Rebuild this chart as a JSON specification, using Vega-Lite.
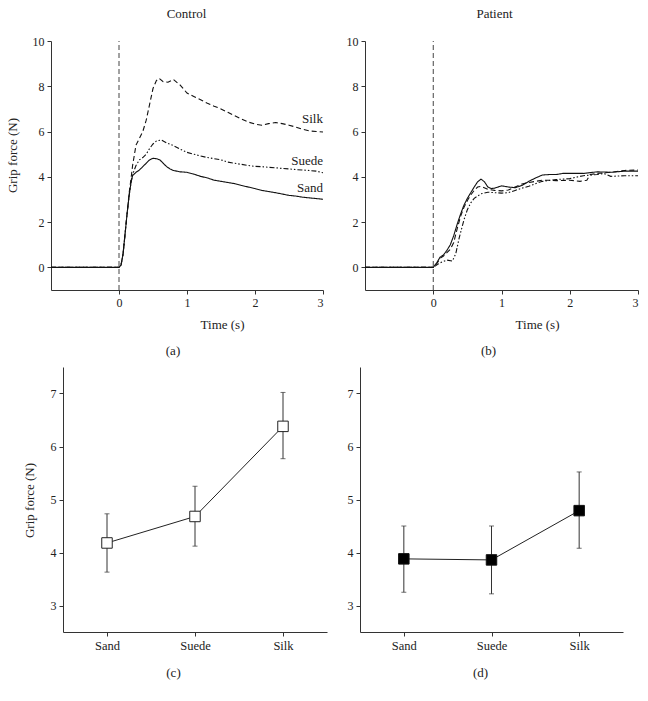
{
  "$schema": "https://vega.github.io/schema/vega-lite/v6.json",
  "padding": {"left": 6, "top": 7, "right": 5, "bottom": 5},
  "background": "white",
  "config": {
    "view": {"stroke": null},
    "font": "Liberation Serif",
    "axis": {
      "grid": false,
      "labelFont": "Liberation Serif",
      "titleFont": "Liberation Serif",
      "labelFontSize": 12,
      "titleFontSize": 13,
      "titleFontWeight": "normal",
      "domainColor": "#333333",
      "tickColor": "#333333",
      "labelColor": "#222222",
      "titleColor": "#222222",
      "tickSize": 4,
      "labelPadding": 3
    },
    "title": {"font": "Liberation Serif", "fontSize": 13, "fontWeight": "normal", "color": "#222222"}
  },
  "datasets": {
    "control": [
      {"t": -1, "force": 0, "texture": "Sand"}, {"t": 0, "force": 0, "texture": "Sand"}, {"t": 0.03, "force": 0.1, "texture": "Sand"}, {"t": 0.06, "force": 0.6, "texture": "Sand"}, {"t": 0.09, "force": 1.5, "texture": "Sand"}, {"t": 0.12, "force": 2.4, "texture": "Sand"}, {"t": 0.15, "force": 3.2, "texture": "Sand"}, {"t": 0.18, "force": 3.8, "texture": "Sand"}, {"t": 0.2, "force": 4.05, "texture": "Sand"}, {"t": 0.25, "force": 4.2, "texture": "Sand"}, {"t": 0.3, "force": 4.3, "texture": "Sand"}, {"t": 0.35, "force": 4.45, "texture": "Sand"}, {"t": 0.4, "force": 4.6, "texture": "Sand"}, {"t": 0.45, "force": 4.75, "texture": "Sand"}, {"t": 0.5, "force": 4.82, "texture": "Sand"}, {"t": 0.55, "force": 4.8, "texture": "Sand"}, {"t": 0.6, "force": 4.75, "texture": "Sand"}, {"t": 0.65, "force": 4.6, "texture": "Sand"}, {"t": 0.7, "force": 4.45, "texture": "Sand"}, {"t": 0.75, "force": 4.35, "texture": "Sand"}, {"t": 0.8, "force": 4.28, "texture": "Sand"}, {"t": 0.9, "force": 4.22, "texture": "Sand"}, {"t": 1.0, "force": 4.2, "texture": "Sand"}, {"t": 1.1, "force": 4.12, "texture": "Sand"}, {"t": 1.2, "force": 4.02, "texture": "Sand"}, {"t": 1.3, "force": 3.95, "texture": "Sand"}, {"t": 1.4, "force": 3.85, "texture": "Sand"}, {"t": 1.5, "force": 3.8, "texture": "Sand"}, {"t": 1.6, "force": 3.75, "texture": "Sand"}, {"t": 1.7, "force": 3.7, "texture": "Sand"}, {"t": 1.8, "force": 3.62, "texture": "Sand"}, {"t": 1.9, "force": 3.55, "texture": "Sand"}, {"t": 2.0, "force": 3.48, "texture": "Sand"}, {"t": 2.1, "force": 3.4, "texture": "Sand"}, {"t": 2.2, "force": 3.35, "texture": "Sand"}, {"t": 2.3, "force": 3.3, "texture": "Sand"}, {"t": 2.4, "force": 3.24, "texture": "Sand"}, {"t": 2.5, "force": 3.18, "texture": "Sand"}, {"t": 2.6, "force": 3.15, "texture": "Sand"}, {"t": 2.7, "force": 3.1, "texture": "Sand"}, {"t": 2.8, "force": 3.07, "texture": "Sand"}, {"t": 2.9, "force": 3.04, "texture": "Sand"}, {"t": 3.0, "force": 3.01, "texture": "Sand"},
      {"t": -1, "force": 0, "texture": "Suede"}, {"t": 0, "force": 0, "texture": "Suede"}, {"t": 0.03, "force": 0.1, "texture": "Suede"}, {"t": 0.06, "force": 0.6, "texture": "Suede"}, {"t": 0.09, "force": 1.5, "texture": "Suede"}, {"t": 0.12, "force": 2.4, "texture": "Suede"}, {"t": 0.15, "force": 3.2, "texture": "Suede"}, {"t": 0.18, "force": 3.8, "texture": "Suede"}, {"t": 0.2, "force": 4.1, "texture": "Suede"}, {"t": 0.25, "force": 4.5, "texture": "Suede"}, {"t": 0.3, "force": 4.75, "texture": "Suede"}, {"t": 0.35, "force": 4.85, "texture": "Suede"}, {"t": 0.4, "force": 5.0, "texture": "Suede"}, {"t": 0.45, "force": 5.25, "texture": "Suede"}, {"t": 0.5, "force": 5.45, "texture": "Suede"}, {"t": 0.55, "force": 5.58, "texture": "Suede"}, {"t": 0.62, "force": 5.63, "texture": "Suede"}, {"t": 0.7, "force": 5.5, "texture": "Suede"}, {"t": 0.8, "force": 5.38, "texture": "Suede"}, {"t": 0.9, "force": 5.22, "texture": "Suede"}, {"t": 1.0, "force": 5.08, "texture": "Suede"}, {"t": 1.1, "force": 5.0, "texture": "Suede"}, {"t": 1.2, "force": 4.92, "texture": "Suede"}, {"t": 1.3, "force": 4.85, "texture": "Suede"}, {"t": 1.4, "force": 4.8, "texture": "Suede"}, {"t": 1.5, "force": 4.75, "texture": "Suede"}, {"t": 1.6, "force": 4.65, "texture": "Suede"}, {"t": 1.7, "force": 4.6, "texture": "Suede"}, {"t": 1.8, "force": 4.55, "texture": "Suede"}, {"t": 1.9, "force": 4.5, "texture": "Suede"}, {"t": 2.0, "force": 4.46, "texture": "Suede"}, {"t": 2.1, "force": 4.45, "texture": "Suede"}, {"t": 2.2, "force": 4.42, "texture": "Suede"}, {"t": 2.3, "force": 4.4, "texture": "Suede"}, {"t": 2.4, "force": 4.37, "texture": "Suede"}, {"t": 2.5, "force": 4.35, "texture": "Suede"}, {"t": 2.6, "force": 4.32, "texture": "Suede"}, {"t": 2.7, "force": 4.3, "texture": "Suede"}, {"t": 2.8, "force": 4.28, "texture": "Suede"}, {"t": 2.9, "force": 4.25, "texture": "Suede"}, {"t": 3.0, "force": 4.18, "texture": "Suede"},
      {"t": -1, "force": 0, "texture": "Silk"}, {"t": 0, "force": 0, "texture": "Silk"}, {"t": 0.03, "force": 0.1, "texture": "Silk"}, {"t": 0.06, "force": 0.6, "texture": "Silk"}, {"t": 0.09, "force": 1.5, "texture": "Silk"}, {"t": 0.12, "force": 2.4, "texture": "Silk"}, {"t": 0.15, "force": 3.3, "texture": "Silk"}, {"t": 0.18, "force": 4.0, "texture": "Silk"}, {"t": 0.2, "force": 4.5, "texture": "Silk"}, {"t": 0.25, "force": 5.4, "texture": "Silk"}, {"t": 0.3, "force": 5.7, "texture": "Silk"}, {"t": 0.35, "force": 6.0, "texture": "Silk"}, {"t": 0.4, "force": 6.5, "texture": "Silk"}, {"t": 0.45, "force": 7.2, "texture": "Silk"}, {"t": 0.5, "force": 7.9, "texture": "Silk"}, {"t": 0.55, "force": 8.25, "texture": "Silk"}, {"t": 0.59, "force": 8.35, "texture": "Silk"}, {"t": 0.65, "force": 8.2, "texture": "Silk"}, {"t": 0.72, "force": 8.18, "texture": "Silk"}, {"t": 0.8, "force": 8.3, "texture": "Silk"}, {"t": 0.9, "force": 8.05, "texture": "Silk"}, {"t": 1.0, "force": 7.7, "texture": "Silk"}, {"t": 1.1, "force": 7.55, "texture": "Silk"}, {"t": 1.2, "force": 7.4, "texture": "Silk"}, {"t": 1.3, "force": 7.25, "texture": "Silk"}, {"t": 1.4, "force": 7.12, "texture": "Silk"}, {"t": 1.5, "force": 7.0, "texture": "Silk"}, {"t": 1.6, "force": 6.85, "texture": "Silk"}, {"t": 1.7, "force": 6.7, "texture": "Silk"}, {"t": 1.8, "force": 6.55, "texture": "Silk"}, {"t": 1.9, "force": 6.42, "texture": "Silk"}, {"t": 2.0, "force": 6.33, "texture": "Silk"}, {"t": 2.1, "force": 6.28, "texture": "Silk"}, {"t": 2.2, "force": 6.35, "texture": "Silk"}, {"t": 2.3, "force": 6.4, "texture": "Silk"}, {"t": 2.4, "force": 6.35, "texture": "Silk"}, {"t": 2.5, "force": 6.28, "texture": "Silk"}, {"t": 2.6, "force": 6.2, "texture": "Silk"}, {"t": 2.7, "force": 6.1, "texture": "Silk"}, {"t": 2.8, "force": 6.03, "texture": "Silk"}, {"t": 2.9, "force": 6.0, "texture": "Silk"}, {"t": 3.0, "force": 5.98, "texture": "Silk"}
    ],
    "patient": [
      {"t": -1, "force": 0, "texture": "Sand"}, {"t": 0, "force": 0, "texture": "Sand"}, {"t": 0.05, "force": 0.2, "texture": "Sand"}, {"t": 0.1, "force": 0.45, "texture": "Sand"}, {"t": 0.15, "force": 0.55, "texture": "Sand"}, {"t": 0.2, "force": 0.75, "texture": "Sand"}, {"t": 0.25, "force": 1.0, "texture": "Sand"}, {"t": 0.3, "force": 1.4, "texture": "Sand"}, {"t": 0.35, "force": 1.9, "texture": "Sand"}, {"t": 0.4, "force": 2.35, "texture": "Sand"}, {"t": 0.45, "force": 2.75, "texture": "Sand"}, {"t": 0.5, "force": 3.05, "texture": "Sand"}, {"t": 0.55, "force": 3.3, "texture": "Sand"}, {"t": 0.6, "force": 3.55, "texture": "Sand"}, {"t": 0.65, "force": 3.78, "texture": "Sand"}, {"t": 0.7, "force": 3.9, "texture": "Sand"}, {"t": 0.75, "force": 3.78, "texture": "Sand"}, {"t": 0.8, "force": 3.55, "texture": "Sand"}, {"t": 0.85, "force": 3.48, "texture": "Sand"}, {"t": 0.9, "force": 3.5, "texture": "Sand"}, {"t": 1.0, "force": 3.6, "texture": "Sand"}, {"t": 1.1, "force": 3.55, "texture": "Sand"}, {"t": 1.2, "force": 3.52, "texture": "Sand"}, {"t": 1.3, "force": 3.62, "texture": "Sand"}, {"t": 1.4, "force": 3.8, "texture": "Sand"}, {"t": 1.5, "force": 3.95, "texture": "Sand"}, {"t": 1.6, "force": 4.08, "texture": "Sand"}, {"t": 1.7, "force": 4.1, "texture": "Sand"}, {"t": 1.8, "force": 4.1, "texture": "Sand"}, {"t": 1.9, "force": 4.15, "texture": "Sand"}, {"t": 2.0, "force": 4.15, "texture": "Sand"}, {"t": 2.2, "force": 4.15, "texture": "Sand"}, {"t": 2.4, "force": 4.22, "texture": "Sand"}, {"t": 2.6, "force": 4.2, "texture": "Sand"}, {"t": 2.8, "force": 4.25, "texture": "Sand"}, {"t": 3.0, "force": 4.25, "texture": "Sand"},
      {"t": -1, "force": 0, "texture": "Suede"}, {"t": 0, "force": 0, "texture": "Suede"}, {"t": 0.1, "force": 0.2, "texture": "Suede"}, {"t": 0.2, "force": 0.32, "texture": "Suede"}, {"t": 0.28, "force": 0.28, "texture": "Suede"}, {"t": 0.33, "force": 0.6, "texture": "Suede"}, {"t": 0.38, "force": 1.3, "texture": "Suede"}, {"t": 0.45, "force": 2.1, "texture": "Suede"}, {"t": 0.5, "force": 2.55, "texture": "Suede"}, {"t": 0.55, "force": 2.85, "texture": "Suede"}, {"t": 0.6, "force": 3.05, "texture": "Suede"}, {"t": 0.7, "force": 3.25, "texture": "Suede"}, {"t": 0.8, "force": 3.32, "texture": "Suede"}, {"t": 0.9, "force": 3.3, "texture": "Suede"}, {"t": 1.0, "force": 3.28, "texture": "Suede"}, {"t": 1.1, "force": 3.3, "texture": "Suede"}, {"t": 1.2, "force": 3.4, "texture": "Suede"}, {"t": 1.3, "force": 3.5, "texture": "Suede"}, {"t": 1.4, "force": 3.58, "texture": "Suede"}, {"t": 1.5, "force": 3.7, "texture": "Suede"}, {"t": 1.6, "force": 3.8, "texture": "Suede"}, {"t": 1.8, "force": 3.88, "texture": "Suede"}, {"t": 2.0, "force": 3.92, "texture": "Suede"}, {"t": 2.2, "force": 4.05, "texture": "Suede"}, {"t": 2.4, "force": 4.1, "texture": "Suede"}, {"t": 2.5, "force": 4.15, "texture": "Suede"}, {"t": 2.6, "force": 4.02, "texture": "Suede"}, {"t": 2.8, "force": 4.05, "texture": "Suede"}, {"t": 3.0, "force": 4.05, "texture": "Suede"},
      {"t": -1, "force": 0, "texture": "Silk"}, {"t": 0, "force": 0, "texture": "Silk"}, {"t": 0.05, "force": 0.15, "texture": "Silk"}, {"t": 0.1, "force": 0.4, "texture": "Silk"}, {"t": 0.15, "force": 0.5, "texture": "Silk"}, {"t": 0.2, "force": 0.65, "texture": "Silk"}, {"t": 0.25, "force": 0.8, "texture": "Silk"}, {"t": 0.3, "force": 1.1, "texture": "Silk"}, {"t": 0.35, "force": 1.7, "texture": "Silk"}, {"t": 0.4, "force": 2.25, "texture": "Silk"}, {"t": 0.45, "force": 2.65, "texture": "Silk"}, {"t": 0.5, "force": 2.95, "texture": "Silk"}, {"t": 0.55, "force": 3.2, "texture": "Silk"}, {"t": 0.6, "force": 3.4, "texture": "Silk"}, {"t": 0.65, "force": 3.55, "texture": "Silk"}, {"t": 0.7, "force": 3.58, "texture": "Silk"}, {"t": 0.8, "force": 3.45, "texture": "Silk"}, {"t": 0.9, "force": 3.4, "texture": "Silk"}, {"t": 1.0, "force": 3.38, "texture": "Silk"}, {"t": 1.1, "force": 3.42, "texture": "Silk"}, {"t": 1.2, "force": 3.55, "texture": "Silk"}, {"t": 1.3, "force": 3.68, "texture": "Silk"}, {"t": 1.4, "force": 3.75, "texture": "Silk"}, {"t": 1.6, "force": 3.85, "texture": "Silk"}, {"t": 1.7, "force": 3.85, "texture": "Silk"}, {"t": 1.8, "force": 3.83, "texture": "Silk"}, {"t": 2.0, "force": 3.85, "texture": "Silk"}, {"t": 2.15, "force": 3.8, "texture": "Silk"}, {"t": 2.25, "force": 3.85, "texture": "Silk"}, {"t": 2.3, "force": 4.1, "texture": "Silk"}, {"t": 2.4, "force": 4.15, "texture": "Silk"}, {"t": 2.6, "force": 4.2, "texture": "Silk"}, {"t": 2.8, "force": 4.28, "texture": "Silk"}, {"t": 3.0, "force": 4.3, "texture": "Silk"}
    ],
    "labels": [
      {"texture": "Silk", "t": 3.0, "force": 6.55},
      {"texture": "Suede", "t": 3.0, "force": 4.7},
      {"texture": "Sand", "t": 3.0, "force": 3.5}
    ],
    "onset": [
      {"t": 0, "lo": -1, "hi": 10}
    ],
    "control_means": [
      {"texture": "Sand", "mean": 4.18, "lo": 3.63, "hi": 4.73},
      {"texture": "Suede", "mean": 4.68, "lo": 4.12, "hi": 5.25},
      {"texture": "Silk", "mean": 6.38, "lo": 5.77, "hi": 7.02}
    ],
    "patient_means": [
      {"texture": "Sand", "mean": 3.88, "lo": 3.25, "hi": 4.5},
      {"texture": "Suede", "mean": 3.86, "lo": 3.22, "hi": 4.5},
      {"texture": "Silk", "mean": 4.79, "lo": 4.08, "hi": 5.52}
    ]
  },
  "vconcat": [
    {
      "hconcat": [
        {
          "width": 272, "height": 249,
          "title": {"text": "(a)", "orient": "bottom", "frame": "group", "anchor": "middle", "dx": -14, "offset": 14},
          "layer": [
            {
              "data": {"name": "control"},
              "mark": {"type": "line", "color": "#111111", "strokeWidth": 1.1},
              "encoding": {
                "x": {"field": "t", "type": "quantitative", "scale": {"domain": [-1, 3], "nice": false, "zero": false},
                      "axis": {"values": [0, 1, 2, 3], "title": "Time (s)", "titleX": 171, "titleY": 28}},
                "y": {"field": "force", "type": "quantitative", "scale": {"domain": [-1, 10], "nice": false},
                      "axis": {"values": [0, 2, 4, 6, 8, 10], "title": "Grip force (N)", "titleX": -32, "titleY": 114}},
                "strokeDash": {"field": "texture", "type": "nominal", "legend": null,
                               "scale": {"domain": ["Sand", "Suede", "Silk"], "range": [[1, 0], [5, 2, 1.5, 2, 1.5, 2], [5, 3]]}},
                "detail": {"field": "texture"}
              }
            },
            {
              "data": {"name": "onset"},
              "mark": {"type": "rule", "color": "#444444", "strokeDash": [5, 3], "strokeWidth": 1},
              "encoding": {
                "x": {"field": "t", "type": "quantitative",
                      "axis": {"orient": "top", "title": "Control", "domain": false, "ticks": false, "labels": false, "titleX": 135, "titleY": -21}},
                "y": {"field": "lo", "type": "quantitative"},
                "y2": {"field": "hi"}
              }
            },
            {
              "data": {"name": "labels"},
              "mark": {"type": "text", "align": "right", "baseline": "middle", "font": "Liberation Serif", "fontSize": 13, "color": "#222222"},
              "encoding": {
                "x": {"field": "t", "type": "quantitative", "axis": null},
                "y": {"field": "force", "type": "quantitative"},
                "text": {"field": "texture"}
              }
            }
          ],
          "resolve": {"axis": {"x": "independent"}}
        },
        {
          "width": 273, "height": 249,
          "title": {"text": "(b)", "orient": "bottom", "frame": "group", "anchor": "middle", "dx": -13, "offset": 14},
          "layer": [
            {
              "data": {"name": "patient"},
              "mark": {"type": "line", "color": "#111111", "strokeWidth": 1.1},
              "encoding": {
                "x": {"field": "t", "type": "quantitative", "scale": {"domain": [-1, 3], "nice": false, "zero": false},
                      "axis": {"values": [0, 1, 2, 3], "title": "Time (s)", "titleX": 172, "titleY": 28}},
                "y": {"field": "force", "type": "quantitative", "scale": {"domain": [-1, 10], "nice": false},
                      "axis": {"values": [0, 2, 4, 6, 8, 10], "title": null}},
                "strokeDash": {"field": "texture", "type": "nominal", "legend": null,
                               "scale": {"domain": ["Sand", "Suede", "Silk"], "range": [[1, 0], [5, 2, 1.5, 2, 1.5, 2], [5, 3]]}},
                "detail": {"field": "texture"}
              }
            },
            {
              "data": {"name": "onset"},
              "mark": {"type": "rule", "color": "#444444", "strokeDash": [5, 3], "strokeWidth": 1},
              "encoding": {
                "x": {"field": "t", "type": "quantitative",
                      "axis": {"orient": "top", "title": "Patient", "domain": false, "ticks": false, "labels": false, "titleX": 129, "titleY": -21}},
                "y": {"field": "lo", "type": "quantitative"},
                "y2": {"field": "hi"}
              }
            }
          ],
          "resolve": {"axis": {"x": "independent"}}
        }
      ],
      "spacing": 42,
      "bounds": "flush"
    },
    {
      "hconcat": [
        {
          "width": 1, "height": 1,
          "data": {"values": [{"a": 0}]},
          "mark": {"type": "point", "opacity": 0},
          "encoding": {}
        },
        {
          "hconcat": [
            {
              "width": 264, "height": 265,
              "data": {"name": "control_means"},
              "encoding": {
                "x": {"field": "texture", "type": "nominal", "sort": ["Sand", "Suede", "Silk"],
                      "scale": {"type": "point", "padding": 0.5},
                      "axis": {"labelAngle": 0, "title": "(c)", "titleX": 110, "titleY": 34, "labelFontSize": 12.5}},
                "y": {"field": "mean", "type": "quantitative", "scale": {"domain": [2.5, 7.5], "nice": false, "zero": false},
                      "axis": {"values": [3, 4, 5, 6, 7], "title": "Grip force (N)", "titleX": -27, "titleY": 133}}
              },
              "layer": [
                {"mark": {"type": "line", "color": "#222222", "strokeWidth": 1}},
                {"mark": {"type": "rule", "color": "#333333", "strokeWidth": 1},
                 "encoding": {"y": {"field": "lo", "type": "quantitative"}, "y2": {"field": "hi"}}},
                {"mark": {"type": "tick", "color": "#333333", "size": 5, "thickness": 1},
                 "encoding": {"y": {"field": "lo", "type": "quantitative"}}},
                {"mark": {"type": "tick", "color": "#333333", "size": 5, "thickness": 1},
                 "encoding": {"y": {"field": "hi", "type": "quantitative"}}},
                {"mark": {"type": "point", "shape": "square", "filled": true, "fill": "white", "stroke": "#222222", "strokeWidth": 1, "size": 110, "opacity": 1}}
              ]
            },
            {
              "width": 263, "height": 265,
              "data": {"name": "patient_means"},
              "encoding": {
                "x": {"field": "texture", "type": "nominal", "sort": ["Sand", "Suede", "Silk"],
                      "scale": {"type": "point", "padding": 0.5},
                      "axis": {"labelAngle": 0, "title": "(d)", "titleX": 120, "titleY": 34, "labelFontSize": 12.5}},
                "y": {"field": "mean", "type": "quantitative", "scale": {"domain": [2.5, 7.5], "nice": false, "zero": false},
                      "axis": {"values": [3, 4, 5, 6, 7], "title": null}}
              },
              "layer": [
                {"mark": {"type": "line", "color": "#222222", "strokeWidth": 1}},
                {"mark": {"type": "rule", "color": "#333333", "strokeWidth": 1},
                 "encoding": {"y": {"field": "lo", "type": "quantitative"}, "y2": {"field": "hi"}}},
                {"mark": {"type": "tick", "color": "#333333", "size": 5, "thickness": 1},
                 "encoding": {"y": {"field": "lo", "type": "quantitative"}}},
                {"mark": {"type": "tick", "color": "#333333", "size": 5, "thickness": 1},
                 "encoding": {"y": {"field": "hi", "type": "quantitative"}}},
                {"mark": {"type": "point", "shape": "square", "filled": true, "fill": "black", "stroke": "#111111", "strokeWidth": 1, "size": 110, "opacity": 1}}
              ]
            }
          ],
          "spacing": 33,
          "bounds": "flush"
        }
      ],
      "spacing": 11,
      "bounds": "flush"
    }
  ],
  "spacing": 6
}
